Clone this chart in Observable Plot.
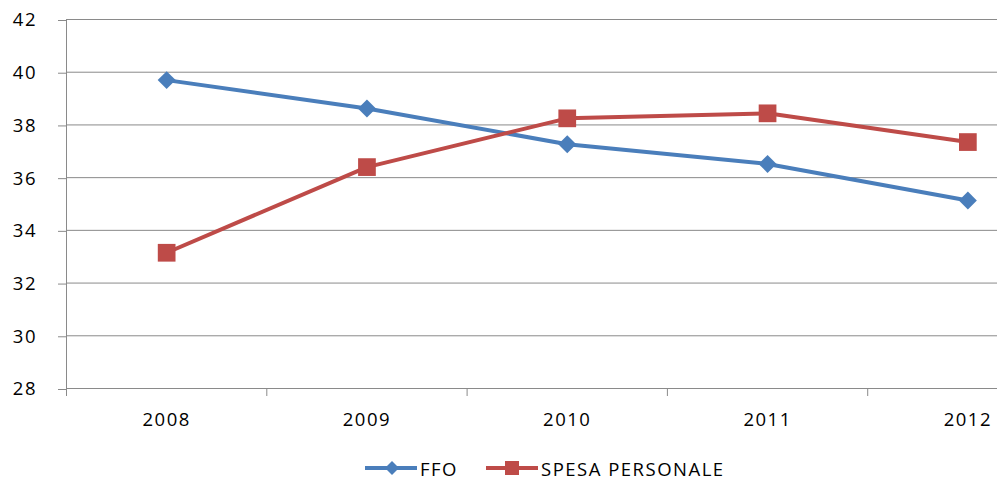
<!DOCTYPE html>
<html><head><meta charset="utf-8">
<script src="https://cdn.jsdelivr.net/npm/d3@7"></script>
<script src="https://cdn.jsdelivr.net/npm/@observablehq/plot@0.6"></script>
<style>
body{margin:0;background:#fff;font-family:"Open Sans",sans-serif;}
#chart svg{display:block;overflow:hidden}
#chart text{letter-spacing:1.5px}
.legend{height:41px;display:flex;align-items:center;padding-left:365px;font-size:18.5px;letter-spacing:1.5px;color:#000;box-sizing:border-box;padding-top:15px}
.item{display:flex;align-items:center;margin-right:28px}
.item svg{display:block;margin-right:3px}
</style></head>
<body><div id="chart"></div><div class="legend" id="legend"></div>
<script>
const years=[2008,2009,2010,2011,2012];
const ffo=[39.7,38.62,37.27,36.52,35.13];
const spesa=[33.15,36.4,38.25,38.44,37.35];
const yTicks=[28,30,32,34,36,38,40,42];
const seriesNames=["FFO","SPESA PERSONALE"];
const colors=["#4A7EBB","#BE4B48"];
const symbols=["diamond2","square"];

const rows=[
  ...years.map((y,i)=>({year:y,value:ffo[i],series:seriesNames[0]})),
  ...years.map((y,i)=>({year:y,value:spesa[i],series:seriesNames[1]}))
];
const bounds=years.map(y=>y-0.5);
const grid="#8a8a8a";

const chart=Plot.plot({
  width:997,height:440,marginLeft:66,marginRight:0,marginTop:19,marginBottom:52,
  style:{fontFamily:"Open Sans",fontSize:"18.5px",color:"#000",background:"#fff"},
  x:{type:"linear",domain:[2007.5,2012.148]},
  y:{domain:[28,42]},
  color:{domain:seriesNames,range:colors},
  marks:[
    Plot.ruleY(yTicks,{stroke:grid,strokeWidth:1}),
    Plot.ruleX([bounds[0]],{stroke:grid,strokeWidth:1}),
    Plot.axisY({ticks:yTicks,tickSize:8,tickPadding:21.5,dy:1,tickFormat:d=>String(d),stroke:grid,fill:"#000",label:null}),
    Plot.axisX({ticks:bounds,tickSize:8,tickFormat:()=>"",stroke:grid,label:null}),
    Plot.axisX({ticks:years,tickSize:0,tickPadding:24,tickFormat:d=>String(d),fill:"#000",label:null}),
    Plot.line(rows,{x:"year",y:"value",z:"series",stroke:"series",strokeWidth:4,strokeLinejoin:"round"}),
    Plot.dot(rows.filter(d=>d.series===seriesNames[0]),{x:"year",y:"value",symbol:()=>symbols[0],r:8.1,fill:"series",stroke:"none"}),
    Plot.dot(rows.filter(d=>d.series===seriesNames[1]),{x:"year",y:"value",symbol:()=>symbols[1],r:10,fill:"series",stroke:"none"})
  ]
});
document.getElementById("chart").appendChild(chart);

const leg=document.getElementById("legend");
seriesNames.forEach((name,i)=>{
  const item=document.createElement("div");item.className="item";
  const mk=i===0
    ? `<path d="M27,3 L34,10 L27,17 L20,10 Z" fill="${colors[i]}"/>`
    : `<rect x="19" y="3" width="14" height="14" fill="${colors[i]}"/>`;
  item.innerHTML=`<svg width="52" height="20"><line x1="0" y1="10" x2="52" y2="10" stroke="${colors[i]}" stroke-width="4"/>${mk}</svg><span>${name}</span>`;
  leg.appendChild(item);
});
</script>
</body></html>
